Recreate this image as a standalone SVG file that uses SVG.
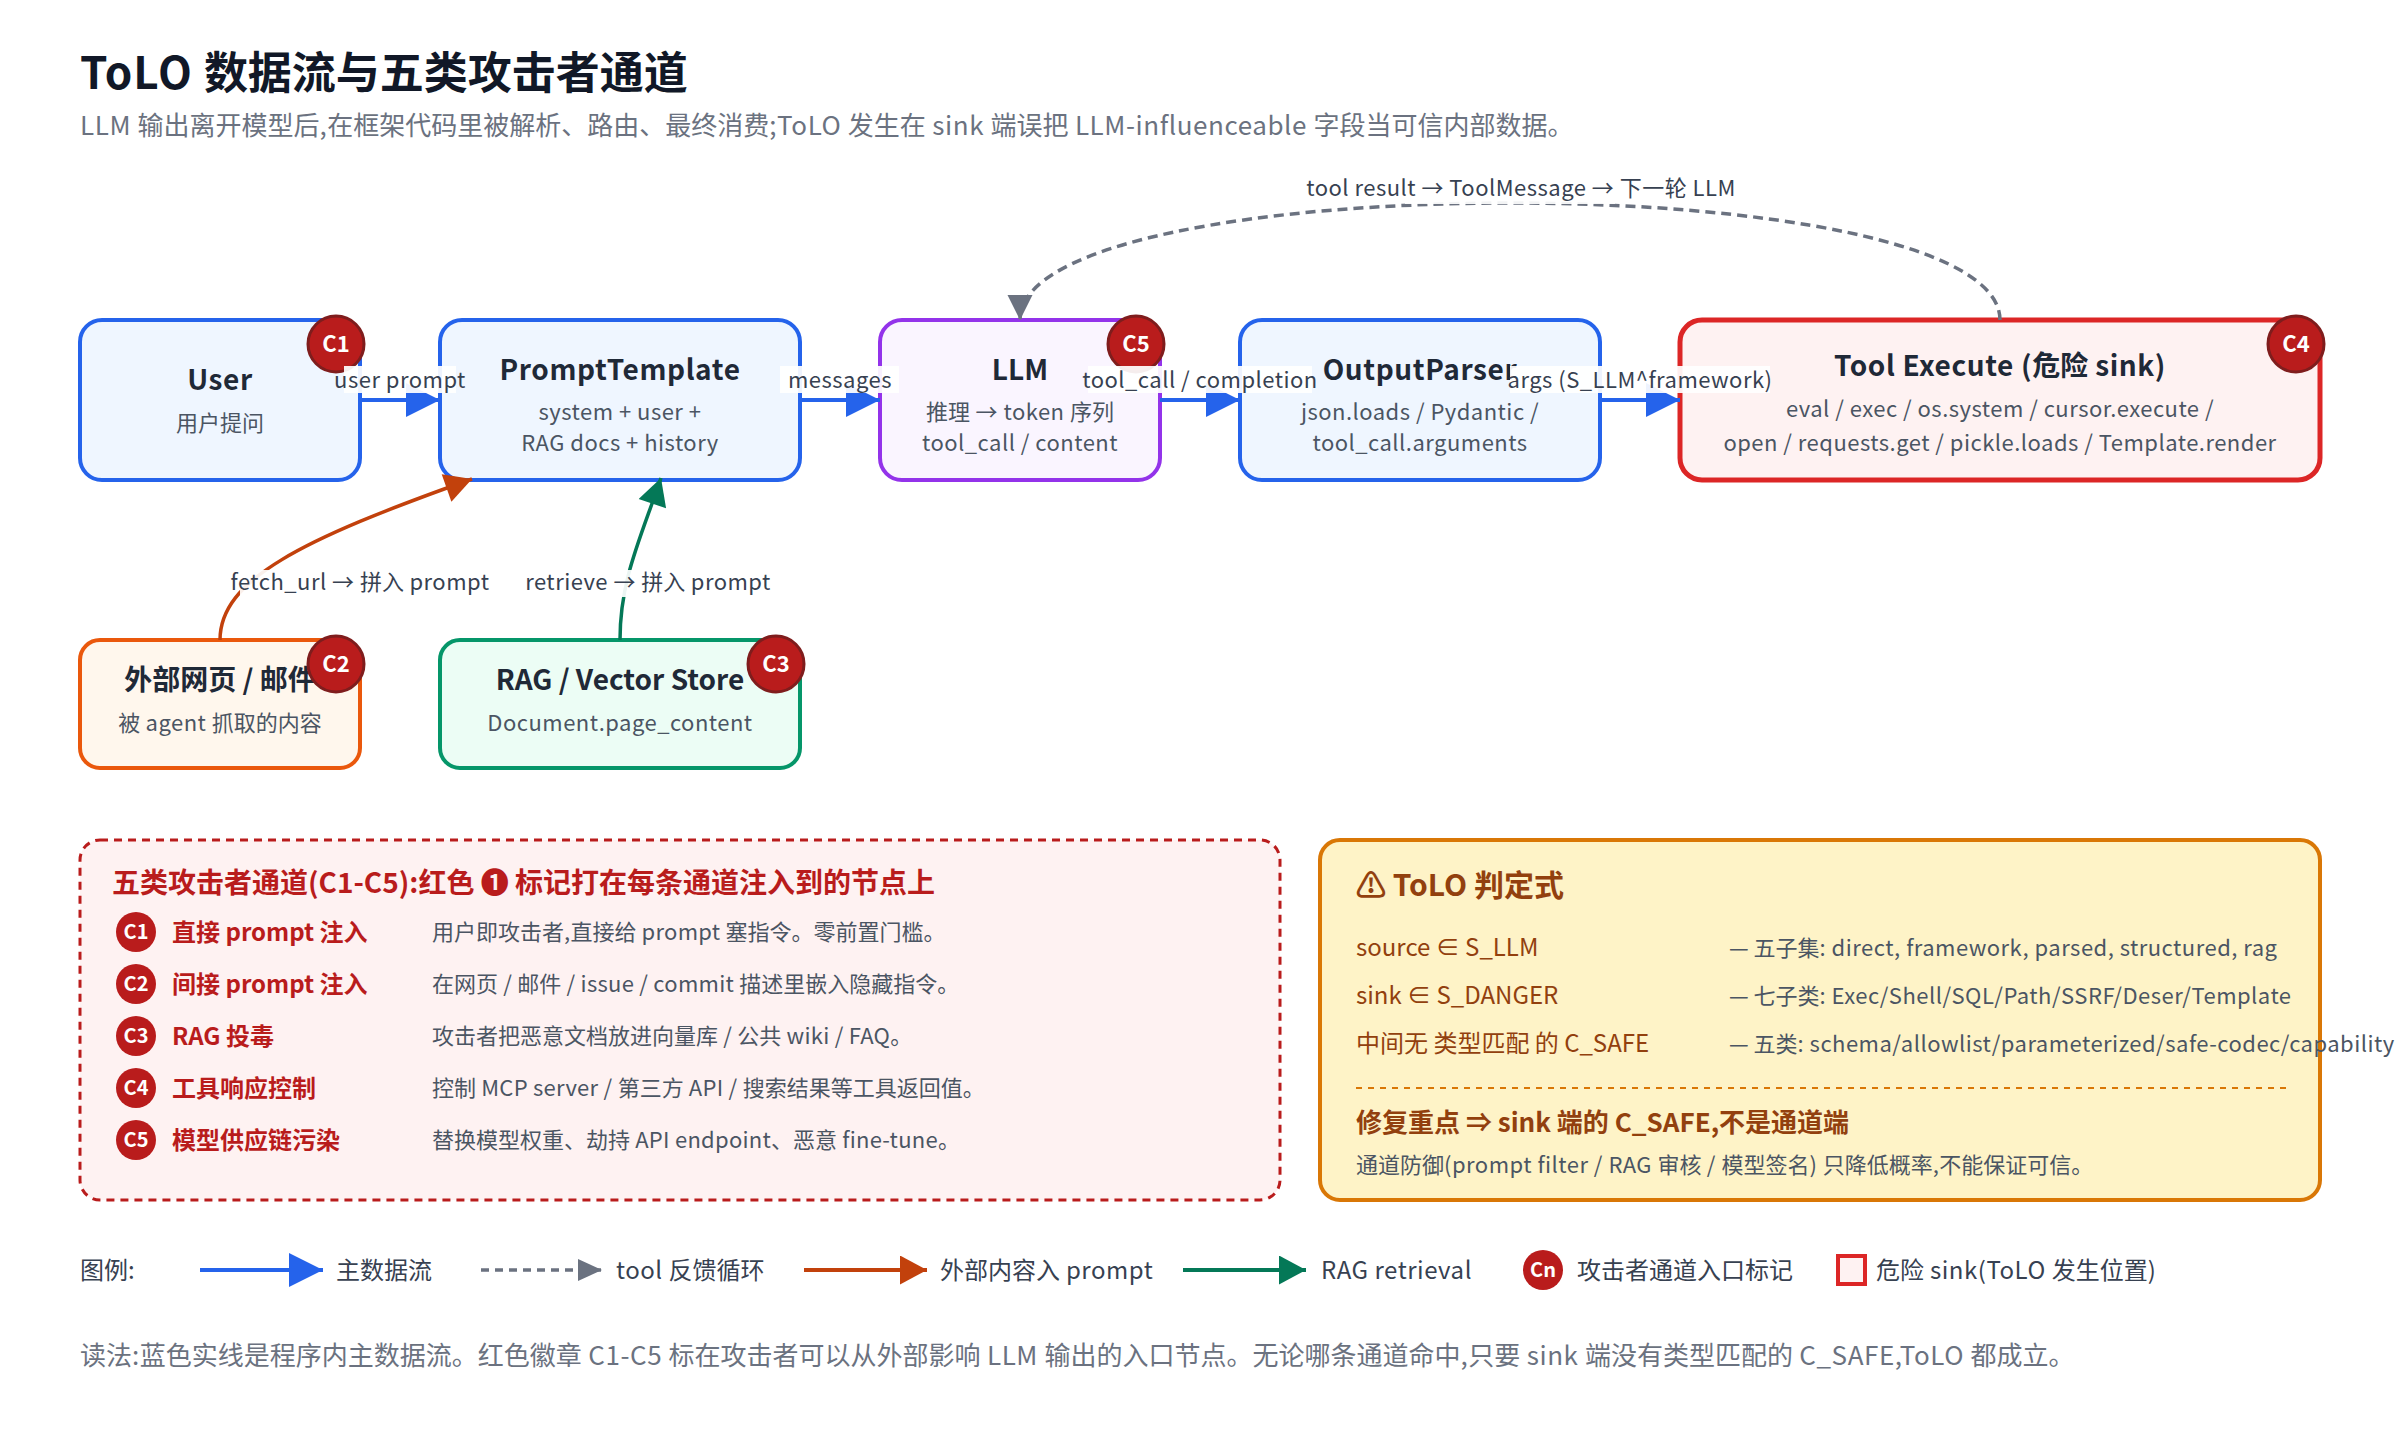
<svg xmlns="http://www.w3.org/2000/svg" width="2400" height="1440" viewBox="0 0 2400 1440">
<style>
text{font-family:"Noto Sans CJK SC","Noto Sans",sans-serif;text-rendering:optimizeSpeed}
.l{letter-spacing:.022em}
.nt{font-size:28px;font-weight:700;fill:#1f2937;text-anchor:middle}
.ns{font-size:22px;fill:#4b5563;text-anchor:middle}
.el{font-size:22px;fill:#374151;text-anchor:middle}
.lbg{fill:#fff;fill-opacity:.92}
.bc{fill:#b91c1c;stroke:#7f1d1d;stroke-width:3}
.bt{font-size:22px;font-weight:700;fill:#fff;text-anchor:middle}
.sc{fill:#b91c1c}
.st{font-size:20px;font-weight:700;fill:#fff;text-anchor:middle}
.rl{font-size:24px;font-weight:700;fill:#b91c1c}
.rd{font-size:22px;fill:#4b5563}
.rd .l{letter-spacing:.012em}
.yl{font-size:24px;fill:#92400e}
.yd{font-size:22px;fill:#4b5563}
.lg{font-size:24px;fill:#374151}
.blue{fill:#eff6ff;stroke:#2563eb;stroke-width:4}
</style>
<defs>
<marker id="mb" markerUnits="userSpaceOnUse" markerWidth="36" markerHeight="36" viewBox="0 0 36 36" refX="35" refY="18" orient="auto"><path d="M1 1L35 18L1 35z" fill="#2563eb"/></marker>
<marker id="mg" markerUnits="userSpaceOnUse" markerWidth="27" markerHeight="27" viewBox="0 0 27 27" refX="26" refY="13.5" orient="auto"><path d="M1 1L26 13.5L1 26z" fill="#6b7280"/></marker>
<marker id="mo" markerUnits="userSpaceOnUse" markerWidth="29" markerHeight="29" viewBox="0 0 29 29" refX="28" refY="14.5" orient="auto"><path d="M1 0L28 14.5L1 29z" fill="#c2410c"/></marker>
<marker id="mt" markerUnits="userSpaceOnUse" markerWidth="29" markerHeight="29" viewBox="0 0 29 29" refX="28" refY="14.5" orient="auto"><path d="M1 0L28 14.5L1 29z" fill="#047857"/></marker>
<marker id="mgl" markerUnits="userSpaceOnUse" markerWidth="25" markerHeight="22" viewBox="0 0 25 22" refX="24" refY="11" orient="auto"><path d="M0 0L24 11L0 22z" fill="#6b7280"/></marker>
</defs>

<text x="80" y="89" font-size="44" font-weight="700" fill="#111827"><tspan class="l">ToLO </tspan>数据流与五类攻击者通道</text>
<text x="80" y="135" font-size="26" fill="#6b7280"><tspan class="l">LLM </tspan>输出离开模型后<tspan class="l">,</tspan>在框架代码里被解析、路由、最终消费<tspan class="l">;ToLO </tspan>发生在<tspan class="l"> sink </tspan>端误把<tspan class="l"> LLM-influenceable </tspan>字段当可信内部数据。</text>

<g id="node-user"><rect x="80" y="320" width="280" height="160" rx="22" class="blue"/><text x="220" y="390" class="nt"><tspan class="l">User</tspan></text><text x="220" y="431" class="ns">用户提问</text><circle cx="336" cy="344" r="28" class="bc"/><text x="336" y="352" class="bt">C1</text></g>
<g id="node-prompt"><rect x="440" y="320" width="360" height="160" rx="22" class="blue"/><text x="620" y="380" class="nt"><tspan class="l">PromptTemplate</tspan></text><text x="620" y="420" class="ns l">system + user +</text><text x="620" y="451" class="ns l">RAG docs + history</text></g>
<g id="node-llm"><rect x="880" y="320" width="280" height="160" rx="22" fill="#faf5ff" stroke="#9333ea" stroke-width="4"/><text x="1020" y="380" class="nt">LLM</text><text x="1020" y="420" class="ns">推理<tspan class="l"> → token </tspan>序列</text><text x="1020" y="451" class="ns l">tool_call / content</text><circle cx="1136" cy="344" r="28" class="bc"/><text x="1136" y="352" class="bt">C5</text></g>
<g id="node-parser"><rect x="1240" y="320" width="360" height="160" rx="22" class="blue"/><text x="1420" y="380" class="nt"><tspan class="l">OutputParser</tspan></text><text x="1420" y="420" class="ns l">json.loads / Pydantic /</text><text x="1420" y="451" class="ns l">tool_call.arguments</text></g>
<g id="node-tool"><rect x="1680" y="320" width="640" height="160" rx="22" fill="#fef2f2" stroke="#dc2626" stroke-width="5"/><text x="2000" y="376" class="nt"><tspan class="l">Tool Execute (</tspan>危险<tspan class="l"> sink)</tspan></text><text x="2000" y="417" class="ns l">eval / exec / os.system / cursor.execute /</text><text x="2000" y="451" class="ns l">open / requests.get / pickle.loads / Template.render</text><circle cx="2296" cy="344" r="28" class="bc"/><text x="2296" y="352" class="bt">C4</text></g>
<g id="node-web"><rect x="80" y="640" width="280" height="128" rx="20" fill="#fff7ed" stroke="#ea580c" stroke-width="4"/><text x="220" y="690" class="nt">外部网页 / 邮件</text><text x="220" y="731" class="ns">被<tspan class="l"> agent </tspan>抓取的内容</text><circle cx="336" cy="664" r="28" class="bc"/><text x="336" y="672" class="bt">C2</text></g>
<g id="node-rag"><rect x="440" y="640" width="360" height="128" rx="20" fill="#ecfdf5" stroke="#059669" stroke-width="4"/><text x="620" y="690" class="nt">RAG / Vector Store</text><text x="620" y="731" class="ns l">Document.page_content</text><circle cx="776" cy="664" r="28" class="bc"/><text x="776" y="672" class="bt">C3</text></g>

<g id="connectors" fill="none">
<path d="M360 400H440" stroke="#2563eb" stroke-width="4" marker-end="url(#mb)"/>
<path d="M800 400H880" stroke="#2563eb" stroke-width="4" marker-end="url(#mb)"/>
<path d="M1160 400H1240" stroke="#2563eb" stroke-width="4" marker-end="url(#mb)"/>
<path d="M1600 400H1680" stroke="#2563eb" stroke-width="4" marker-end="url(#mb)"/>
<path d="M2000 320C2000 164 1020 164 1020 320" stroke="#6b7280" stroke-width="3.5" stroke-dasharray="10 6" marker-end="url(#mg)"/>
<path d="M220 640C220 580 300 540 472 479" stroke="#c2410c" stroke-width="3.5" marker-end="url(#mo)"/>
<path d="M620 640C620 580 640 540 661 478" stroke="#047857" stroke-width="3.5" marker-end="url(#mt)"/>
<rect x="344" y="366" width="112" height="27" class="lbg"/><text x="400" y="388" class="el l">user prompt</text>
<rect x="780" y="366" width="119" height="27" class="lbg"/><text x="840" y="388" class="el l">messages</text>
<rect x="1088" y="366" width="224" height="27" class="lbg"/><text x="1200" y="388" class="el l">tool_call / completion</text>
<rect x="1510" y="366" width="260" height="27" class="lbg"/><text x="1640" y="388" class="el l">args (S_LLM^framework)</text>
<rect x="1405" y="176" width="210" height="28" class="lbg"/><text x="1521" y="196" class="el l">tool result → ToolMessage → 下一轮 LLM</text>
<rect x="240" y="570" width="240" height="27" class="lbg"/><text x="360" y="590" class="el"><tspan class="l">fetch_url → </tspan>拼入<tspan class="l"> prompt</tspan></text>
<rect x="528" y="570" width="240" height="27" class="lbg"/><text x="648" y="590" class="el"><tspan class="l">retrieve → </tspan>拼入<tspan class="l"> prompt</tspan></text>
</g>

<g id="panel-channels">
<rect x="80" y="840" width="1200" height="360" rx="20" fill="#fef2f2" stroke="#b91c1c" stroke-width="3" stroke-dasharray="8 6"/>
<text x="112" y="893" font-size="28" font-weight="700" fill="#b91c1c">五类攻击者通道(C1-C5):红色 ❶ 标记打在每条通道注入到的节点上</text>
<circle cx="136" cy="932" r="20" class="sc"/><text x="136" y="939" class="st">C1</text><text x="172" y="941" class="rl">直接 prompt 注入</text><text x="432" y="940" class="rd">用户即攻击者<tspan class="l">,</tspan>直接给<tspan class="l"> prompt </tspan>塞指令。零前置门槛。</text>
<circle cx="136" cy="984" r="20" class="sc"/><text x="136" y="991" class="st">C2</text><text x="172" y="993" class="rl">间接 prompt 注入</text><text x="432" y="992" class="rd">在网页<tspan class="l"> / </tspan>邮件<tspan class="l"> / issue / commit </tspan>描述里嵌入隐藏指令。</text>
<circle cx="136" cy="1036" r="20" class="sc"/><text x="136" y="1043" class="st">C3</text><text x="172" y="1045" class="rl">RAG 投毒</text><text x="432" y="1044" class="rd">攻击者把恶意文档放进向量库<tspan class="l"> / </tspan>公共<tspan class="l"> wiki / FAQ</tspan>。</text>
<circle cx="136" cy="1088" r="20" class="sc"/><text x="136" y="1095" class="st">C4</text><text x="172" y="1097" class="rl">工具响应控制</text><text x="432" y="1096" class="rd">控制<tspan class="l"> MCP server / </tspan>第三方<tspan class="l"> API / </tspan>搜索结果等工具返回值。</text>
<circle cx="136" cy="1140" r="20" class="sc"/><text x="136" y="1147" class="st">C5</text><text x="172" y="1149" class="rl">模型供应链污染</text><text x="432" y="1148" class="rd">替换模型权重、劫持<tspan class="l"> API endpoint</tspan>、恶意<tspan class="l"> fine-tune</tspan>。</text>
</g>

<g id="panel-verdict">
<rect x="1320" y="840" width="1000" height="360" rx="20" fill="#fef3c7" stroke="#d97706" stroke-width="4"/>
<text x="1356" y="896" font-size="30" font-weight="700" fill="#92400e">⚠ ToLO 判定式</text>
<text x="1356" y="956" class="yl">source ∈ S_LLM</text><text x="1729" y="956" class="yd">— 五子集<tspan class="l">: direct, framework, parsed, structured, rag</tspan></text>
<text x="1356" y="1004" class="yl">sink ∈ S_DANGER</text><text x="1729" y="1004" class="yd">— 七子类<tspan class="l">: Exec/Shell/SQL/Path/SSRF/Deser/Template</tspan></text>
<text x="1356" y="1052" class="yl">中间无 类型匹配 的 C_SAFE</text><text x="1729" y="1052" class="yd">— 五类<tspan class="l">: schema/allowlist/parameterized/safe-codec/capability</tspan></text>
<path d="M1356 1088H2290" stroke="#d97706" stroke-width="2" stroke-dasharray="6 6"/>
<text x="1356" y="1132" font-size="26" font-weight="700" fill="#92400e">修复重点 ⇒ sink 端的 C_SAFE,不是通道端</text>
<text x="1356" y="1173" class="yd">通道防御<tspan class="l">(prompt filter / RAG </tspan>审核<tspan class="l"> / </tspan>模型签名<tspan class="l">) </tspan>只降低概率<tspan class="l">,</tspan>不能保证可信。</text>
</g>

<g id="legend">
<text x="80" y="1279" class="lg">图例:</text>
<path d="M200 1270H323" stroke="#2563eb" stroke-width="4" fill="none" marker-end="url(#mb)"/><text x="336" y="1279" class="lg">主数据流</text>
<path d="M481 1270H602" stroke="#6b7280" stroke-width="3.5" stroke-dasharray="8 6" fill="none" marker-end="url(#mgl)"/><text x="616" y="1279" class="lg"><tspan class="l">tool </tspan>反馈循环</text>
<path d="M804 1270H927" stroke="#c2410c" stroke-width="4" fill="none" marker-end="url(#mo)"/><text x="940" y="1279" class="lg">外部内容入<tspan class="l"> prompt</tspan></text>
<path d="M1183 1270H1306" stroke="#047857" stroke-width="4" fill="none" marker-end="url(#mt)"/><text x="1321" y="1279" class="lg l">RAG retrieval</text>
<circle cx="1543" cy="1270" r="20" class="sc"/><text x="1543" y="1277" class="st">Cn</text><text x="1577" y="1279" class="lg">攻击者通道入口标记</text>
<rect x="1838" y="1256" width="27" height="28" fill="#fef2f2" stroke="#dc2626" stroke-width="4"/><text x="1876" y="1279" class="lg">危险<tspan class="l"> sink(ToLO </tspan>发生位置<tspan class="l">)</tspan></text>
<text x="80" y="1365" font-size="26" fill="#6b7280">读法<tspan class="l">:</tspan>蓝色实线是程序内主数据流。红色徽章<tspan class="l"> C1-C5 </tspan>标在攻击者可以从外部影响<tspan class="l"> LLM </tspan>输出的入口节点。无论哪条通道命中<tspan class="l">,</tspan>只要<tspan class="l"> sink </tspan>端没有类型匹配的<tspan class="l"> C_SAFE,ToLO </tspan>都成立。</text>
</g>
</svg>
